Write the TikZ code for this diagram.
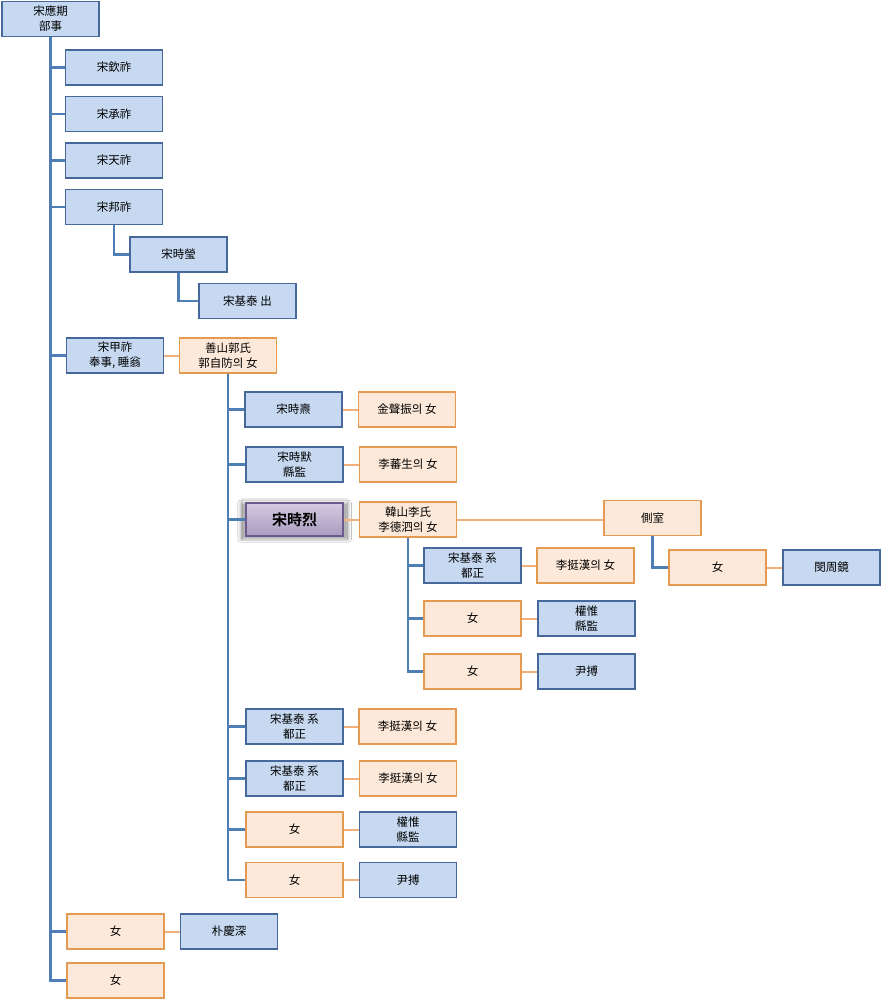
\documentclass[tikz,border=0pt]{standalone}
\usepackage{fontspec}
\setmainfont{Noto Sans CJK KR}[BoldFont={Noto Sans CJK KR Bold}]
\usepackage{tikz}
\usetikzlibrary{positioning}
\usetikzlibrary{shadows.blur}

\definecolor{boxblue}{HTML}{C6D9F1}
\definecolor{edgeblue}{HTML}{46689A}
\definecolor{lineblue}{HTML}{4F7DB5}
\definecolor{boxorange}{HTML}{FDE9D9}
\definecolor{edgeorange}{HTML}{E59A52}
\definecolor{lineorange}{HTML}{F4B07A}
\definecolor{herotop}{HTML}{D3CBE0}
\definecolor{herobot}{HTML}{A99CC0}
\definecolor{heroedge}{HTML}{6B5A8E}

\begin{document}
\begin{tikzpicture}[x=1pt, y=-1pt,
    every node/.style={font=\fontsize{11.5}{15}\selectfont, align=center},
    person/.style={rectangle, draw, line width=1.1pt, minimum width=97pt, minimum height=35pt, inner sep=1pt},
    man/.style={person, fill=boxblue, draw=edgeblue},
    wife/.style={person, fill=boxorange, draw=edgeorange},
    hero/.style={person, minimum height=33pt, top color=herotop, bottom color=herobot, draw=heroedge,
        font=\fontsize{15}{18}\selectfont\bfseries,
        preaction={draw=gray!18, line width=10pt},
        preaction={draw=white, line width=7pt},
        blur shadow={shadow xshift=0pt, shadow yshift=-1.5pt, shadow scale=1.12, shadow opacity=30, shadow blur steps=8}},
    kin/.style={draw=lineblue, line width=2.4pt},
    wed/.style={draw=lineorange, line width=2pt}]
    \useasboundingbox[fill=white] (0,0) rectangle (882,1000);

    % first generation
    \node[man] (yeonggi) at (50.5,19) {宋應期\\部事};
    \node[man] (heumjo) at (114,67.5) {宋欽祚};
    \node[man] (seungjo) at (114,114) {宋承祚};
    \node[man] (cheonjo) at (114,160.5) {宋天祚};
    \node[man] (bangjo) at (114,207) {宋邦祚};
    \node[man] (siyeong) at (178.5,254.5) {宋時瑩};
    \node[man] (gitae) at (247.5,301) {宋基泰 出};
    \node[man] (gapjo) at (115,355.5) {宋甲祚\\奉事, 睡翁};
    \node[wife] (gwak) at (228,355.5) {善山郭氏\\郭自防의 女};
    \node[wife] (dau5) at (115.5,931.5) {女};
    \node[man] (bak) at (229,931.5) {朴慶深};
    \node[wife] (dau6) at (115.5,980.5) {女};

    % sons of gapjo
    \node[man] (sido) at (293.5,409.5) {宋時燾};
    \node[wife] (kimdau) at (407,409.5) {金聲振의 女};
    \node[man] (simuk) at (294.5,464.5) {宋時默\\縣監};
    \node[wife] (leedau) at (408,464.5) {李蕃生의 女};
    \node[hero] (siyeol) at (294.5,519.5) {宋時烈};
    \node[wife] (hanlee) at (408,519.5) {韓山李氏\\李德泗의 女};
    \node[wife] (cheuksil) at (652.5,518) {側室};
    \node[wife] (cdau) at (717.5,567.5) {女};
    \node[man] (min) at (831.5,567.5) {閔周鏡};

    % children of siyeol
    \node[man] (gitae1) at (472.5,565.5) {宋基泰 系\\都正};
    \node[wife] (jeong1) at (585.5,565.5) {李挺漢의 女};
    \node[wife] (dau1) at (472.5,618.5) {女};
    \node[man] (gwon1) at (586.5,618.5) {權惟\\縣監};
    \node[wife] (dau2) at (472.5,671.5) {女};
    \node[man] (yun1) at (586.5,671.5) {尹搏};

    \node[man] (gitae2) at (294.5,726.5) {宋基泰 系\\都正};
    \node[wife] (jeong2) at (407.5,726.5) {李挺漢의 女};
    \node[man] (gitae3) at (294.5,778.5) {宋基泰 系\\都正};
    \node[wife] (jeong3) at (408,778.5) {李挺漢의 女};
    \node[wife] (dau3) at (294.5,829.5) {女};
    \node[man] (gwon2) at (408,829.5) {權惟\\縣監};
    \node[wife] (dau4) at (294.5,880) {女};
    \node[man] (yun2) at (408,880) {尹搏};

    % descent lines
    \foreach \c in {heumjo, seungjo, cheonjo, bangjo, gapjo, dau5, dau6}
        \draw[kin] (yeonggi.south) |- (\c.west);
    \draw[kin] (bangjo.south) |- (siyeong.west);
    \draw[kin] (siyeong.south) |- (gitae.west);
    \foreach \c in {sido, simuk, siyeol, gitae2, gitae3, dau3, dau4}
        \draw[kin] (gwak.south) |- (\c.west);
    \foreach \c in {gitae1, dau1, dau2}
        \draw[kin] (hanlee.south) |- (\c.west);
    \draw[kin] (cheuksil.south) |- (cdau.west);

    % marriages
    \draw[wed] (gapjo) -- (gwak);
    \draw[wed] (dau5) -- (bak);
    \draw[wed] (sido) -- (kimdau);
    \draw[wed] (simuk) -- (leedau);
    \draw[wed] (siyeol) -- (hanlee);
    \draw[wed] (hanlee.east) -- (hanlee.east -| cheuksil.west);
    \draw[wed] (cdau) -- (min);
    \draw[wed] (gitae1) -- (jeong1);
    \draw[wed] (dau1) -- (gwon1);
    \draw[wed] (dau2) -- (yun1);
    \draw[wed] (gitae2) -- (jeong2);
    \draw[wed] (gitae3) -- (jeong3);
    \draw[wed] (dau3) -- (gwon2);
    \draw[wed] (dau4) -- (yun2);
\end{tikzpicture}
\end{document}
